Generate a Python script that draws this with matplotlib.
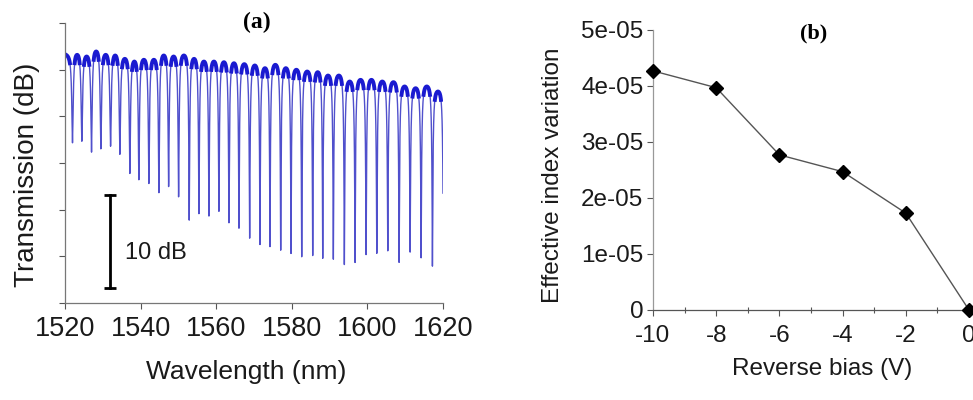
import numpy as np
import matplotlib
matplotlib.use("Agg")
import matplotlib.pyplot as plt
from matplotlib.ticker import MultipleLocator, FuncFormatter

plt.rcParams["font.family"] = ["Liberation Sans", "DejaVu Sans"]

# (a) ring transmission: resonance positions [nm] and dip floors [dB]
dip_wl = [1521.99, 1524.45, 1527.02, 1529.48, 1532.05, 1534.51, 1537.16, 1539.54,
          1542.19, 1544.84, 1547.41, 1550.05, 1552.86, 1555.43, 1558.08, 1560.72,
          1563.37, 1566.02, 1568.85, 1571.58, 1574.23, 1577.06, 1579.79, 1582.62,
          1585.53, 1588.18, 1590.99, 1593.90, 1596.73, 1599.65, 1602.48, 1605.39,
          1608.38, 1611.30, 1614.21, 1617.20, 1620.10]
dip_db = [-12.96, -13.18, -14.14, -13.90, -13.82, -14.46, -16.71, -17.43,
          -17.79, -18.54, -18.07, -19.18, -21.60, -20.89, -21.29, -20.75,
          -21.96, -22.47, -23.57, -24.21, -24.40, -24.75, -25.15, -25.47,
          -25.45, -25.58, -25.82, -26.11, -26.11, -25.32, -25.10, -24.86,
          -25.93, -24.96, -25.58, -26.28, -26.00]
# peak level of each lobe (before first dip, then between dips) [dB]
lobe_db = [-3.41, -3.41, -3.59, -3.05, -3.41, -3.48, -3.84, -4.13, -3.94, -3.94,
           -3.48, -3.59, -3.48, -3.84, -4.13, -4.13, -4.20, -4.31, -4.41, -4.55,
           -4.84, -4.48, -4.84, -5.01, -5.20, -5.27, -5.63, -5.63, -6.27, -6.09,
           -6.09, -6.27, -6.34, -6.80, -6.99, -6.80, -7.34]
WL_RANGE = (1520, 1620)

# (b) effective index change vs reverse bias
bias = [-10, -8, -6, -4, -2, 0]
dneff = [4.27e-5, 3.97e-5, 2.77e-5, 2.47e-5, 1.73e-5, 0.0]

GAMMA = 0.4  # half width of the resonance [nm]


def ring_spectrum(wl):
    c = np.asarray(dip_wl)
    d = np.asarray(dip_db)
    p = np.asarray(lobe_db)
    p_next = np.append(p[1:], p[-1])
    amp = 1 - 10 ** ((d - 0.5 * (p + p_next)) / 10)

    def shape(x):
        lor = GAMMA**2 / ((x[:, None] - c[None, :]) ** 2 + GAMMA**2)
        return 10 * np.log10(np.prod(1 - amp[None, :] * lor, axis=1))

    # lobe centres, to lift each lobe top back to its read level
    edges = np.concatenate(([WL_RANGE[0]], c))
    mids = 0.5 * (edges[:-1] + edges[1:])
    mids[0] = WL_RANGE[0] + 0.3
    lift = -shape(mids)

    k = np.clip(np.searchsorted(c, wl), 0, len(p) - 1)
    return p[k] + lift[k] + shape(wl), p[k]


fig = plt.figure(figsize=(9.73, 4.0), dpi=100)
W, H = 973, 400
TXT = "#1a1a1a"

# ---- panel (a)
ax1 = fig.add_axes([65 / W, (H - 303) / H, 378 / W, 280 / H])
wl = np.linspace(WL_RANGE[0], WL_RANGE[1], 60001)
spec, top = ring_spectrum(wl)
ax1.plot(wl, spec, color="#5050cc", lw=1.0)
thick = np.where(spec > top - 0.9, spec, np.nan)
ax1.plot(wl, thick, color="#1a1ad0", lw=2.8)

ax1.set_xlim(*WL_RANGE)
ax1.set_ylim(-30, 0)
ax1.xaxis.set_major_locator(MultipleLocator(20))
ax1.yaxis.set_major_locator(MultipleLocator(5))
ax1.set_yticklabels([])
ax1.tick_params(axis="both", length=4, width=0.8, color="#555555",
                labelsize=19.5, labelcolor=TXT)
ax1.tick_params(axis="x", pad=5)
for s in ["top", "right"]:
    ax1.spines[s].set_visible(False)
for s in ["left", "bottom"]:
    ax1.spines[s].set_color("#777777")
    ax1.spines[s].set_linewidth(0.9)

# 10 dB scale bar
ax1.plot([1531.8, 1531.8], [-18.4, -28.4], color="black", lw=2,
         marker="_", markersize=9, markeredgewidth=2)
ax1.text(1536.0, -24.6, "10 dB", fontsize=17, color=TXT, va="center", ha="left")

fig.text(27 / W, 1 - 175 / H, "Transmission (dB)", rotation=90, fontsize=20,
         color=TXT, ha="center", va="center")
fig.text(246 / W, 1 - 372 / H, "Wavelength (nm)", fontsize=19, color=TXT,
         ha="center", va="center")
fig.text(257 / W, 1 - 22 / H, "(a)", fontsize=17, fontweight="bold",
         family="Liberation Serif", ha="center", va="center")

# ---- panel (b)
ax2 = fig.add_axes([653 / W, (H - 310) / H, 316 / W, 280 / H])
ax2.plot(bias, dneff, color="#555555", lw=1.0, marker="D", markersize=7.5,
         markerfacecolor="black", markeredgecolor="black", clip_on=False, zorder=3)
ax2.set_xlim(-10, 0)
ax2.set_ylim(0, 5e-5)
ax2.xaxis.set_major_locator(MultipleLocator(2))
ax2.xaxis.set_minor_locator(MultipleLocator(1))
ax2.yaxis.set_major_locator(MultipleLocator(1e-5))
ax2.yaxis.set_major_formatter(FuncFormatter(lambda v, pos: "0" if abs(v) < 1e-12 else f"{v:.0e}"))
ax2.xaxis.set_major_formatter(FuncFormatter(lambda v, pos: f"{v:g}"))
ax2.tick_params(axis="both", which="major", length=4, width=0.8, color="#555555",
                labelsize=17.5, labelcolor=TXT, pad=3)
ax2.tick_params(axis="x", which="major", pad=7)
ax2.tick_params(axis="x", which="minor", direction="inout", length=4, width=0.8,
                color="#555555")
for s in ["top", "right"]:
    ax2.spines[s].set_visible(False)
ax2.spines["left"].set_color("#999999")
ax2.spines["bottom"].set_color("#555555")
for s in ["left", "bottom"]:
    ax2.spines[s].set_linewidth(0.9)

fig.text(553 / W, 1 - 175 / H, "Effective index variation", rotation=90,
         fontsize=17.5, color=TXT, ha="center", va="center")
fig.text(822 / W, 1 - 369 / H, "Reverse bias (V)", fontsize=17.5, color=TXT,
         ha="center", va="center")
fig.text(814 / W, 1 - 33 / H, "(b)", fontsize=16, fontweight="bold",
         family="Liberation Serif", ha="center", va="center")

fig.savefig("out.png", dpi=100)
